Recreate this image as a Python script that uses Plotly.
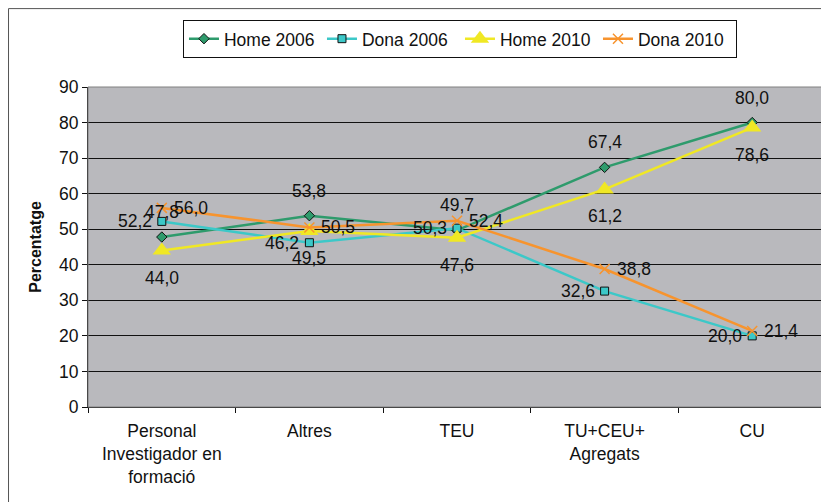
import plotly.graph_objects as go

categories = ["Personal<br>Investigador en<br>formació", "Altres", "TEU", "TU+CEU+<br>Agregats", "CU"]
series_names = ["Home 2006", "Dona 2006", "Home 2010", "Dona 2010"]
home_2006 = [47.8, 53.8, 49.7, 67.4, 80.0]
dona_2006 = [52.2, 46.2, 50.3, 32.6, 20.0]
home_2010 = [44.0, 49.5, 47.6, 61.2, 78.6]
dona_2010 = [56.0, 50.5, 52.4, 38.8, 21.4]
y_ticks = [0, 10, 20, 30, 40, 50, 60, 70, 80, 90]

FONT = "Liberation Sans, Arial, sans-serif"
FS = 17.5


def fmt(v):
    return f"{v:.1f}".replace(".", ",")


styles = [
    dict(color="#2E9B6C", symbol="diamond", size=8, lw=1, lcolor="#111111",
         lab=dict(xanchor="center", yanchor="middle", xshift=0, yshift=25)),
    dict(color="#3CC8C8", symbol="square", size=8, lw=1, lcolor="#111111",
         lab=dict(xanchor="right", yanchor="middle", xshift=-9, yshift=0)),
    dict(color="#F0E824", symbol="triangle-up", size=16, lw=0, lcolor="#F0E824",
         lab=dict(xanchor="center", yanchor="middle", xshift=0, yshift=-27)),
    dict(color="#F7942E", symbol="x-thin", size=10, lw=1.5, lcolor="#F7942E",
         lab=dict(xanchor="left", yanchor="middle", xshift=11, yshift=0)),
]

fig = go.Figure()
annotations = []
for name, vals, st in zip(series_names, [home_2006, dona_2006, home_2010, dona_2010], styles):
    fig.add_trace(go.Scatter(
        x=categories, y=vals, name=name, mode="lines+markers",
        line=dict(color=st["color"], width=2.5),
        marker=dict(symbol=st["symbol"], size=st["size"], color=st["color"],
                    line=dict(width=st["lw"], color=st["lcolor"])),
        cliponaxis=False,
    ))
    for c, v in zip(categories, vals):
        annotations.append(dict(
            x=c, y=v, xref="x", yref="y", text=fmt(v), showarrow=False,
            font=dict(family=FONT, size=FS, color="#111111"), borderpad=0,
            **st["lab"]))

fig.update_layout(
    width=821, height=494,
    margin=dict(l=80, r=3, t=79, b=95),
    paper_bgcolor="white",
    plot_bgcolor="#B9B9BD",
    font=dict(family=FONT, size=FS, color="#111111"),
    showlegend=True,
    legend=dict(orientation="h", x=0.1287, y=1.21, xanchor="left", yanchor="top",
                bordercolor="#111111", borderwidth=1, bgcolor="white",
                font=dict(size=FS), tracegroupgap=0, itemwidth=30,
                entrywidth=93, entrywidthmode="pixels"),
    xaxis=dict(type="category", range=[-0.5, len(categories) - 0.5],
               tickson="boundaries", ticks="outside", ticklen=5,
               tickcolor="#111111", showline=True, linecolor="#111111", linewidth=1,
               showgrid=False, tickfont=dict(size=FS), ticklabelstandoff=8),
    yaxis=dict(range=[0, 90], tickvals=y_ticks, ticks="outside", ticklen=5,
               tickcolor="#111111", showline=True, linecolor="#111111", linewidth=1,
               showgrid=True, gridcolor="#111111", gridwidth=1, zeroline=False,
               tickfont=dict(size=FS),
               title=dict(text="<b>Percentatge</b>", font=dict(size=16), standoff=13)),
    annotations=annotations,
    shapes=[
        dict(type="rect", xref="paper", yref="paper", x0=0, x1=1, y0=0, y1=1,
             line=dict(color="#808080", width=1), layer="above"),
        dict(type="rect", xref="paper", yref="paper", x0=-0.1077, x1=1.05, y0=-0.35, y1=1.245,
             line=dict(color="#555555", width=1), layer="below"),
    ],
)

fig.write_html("out.html")
